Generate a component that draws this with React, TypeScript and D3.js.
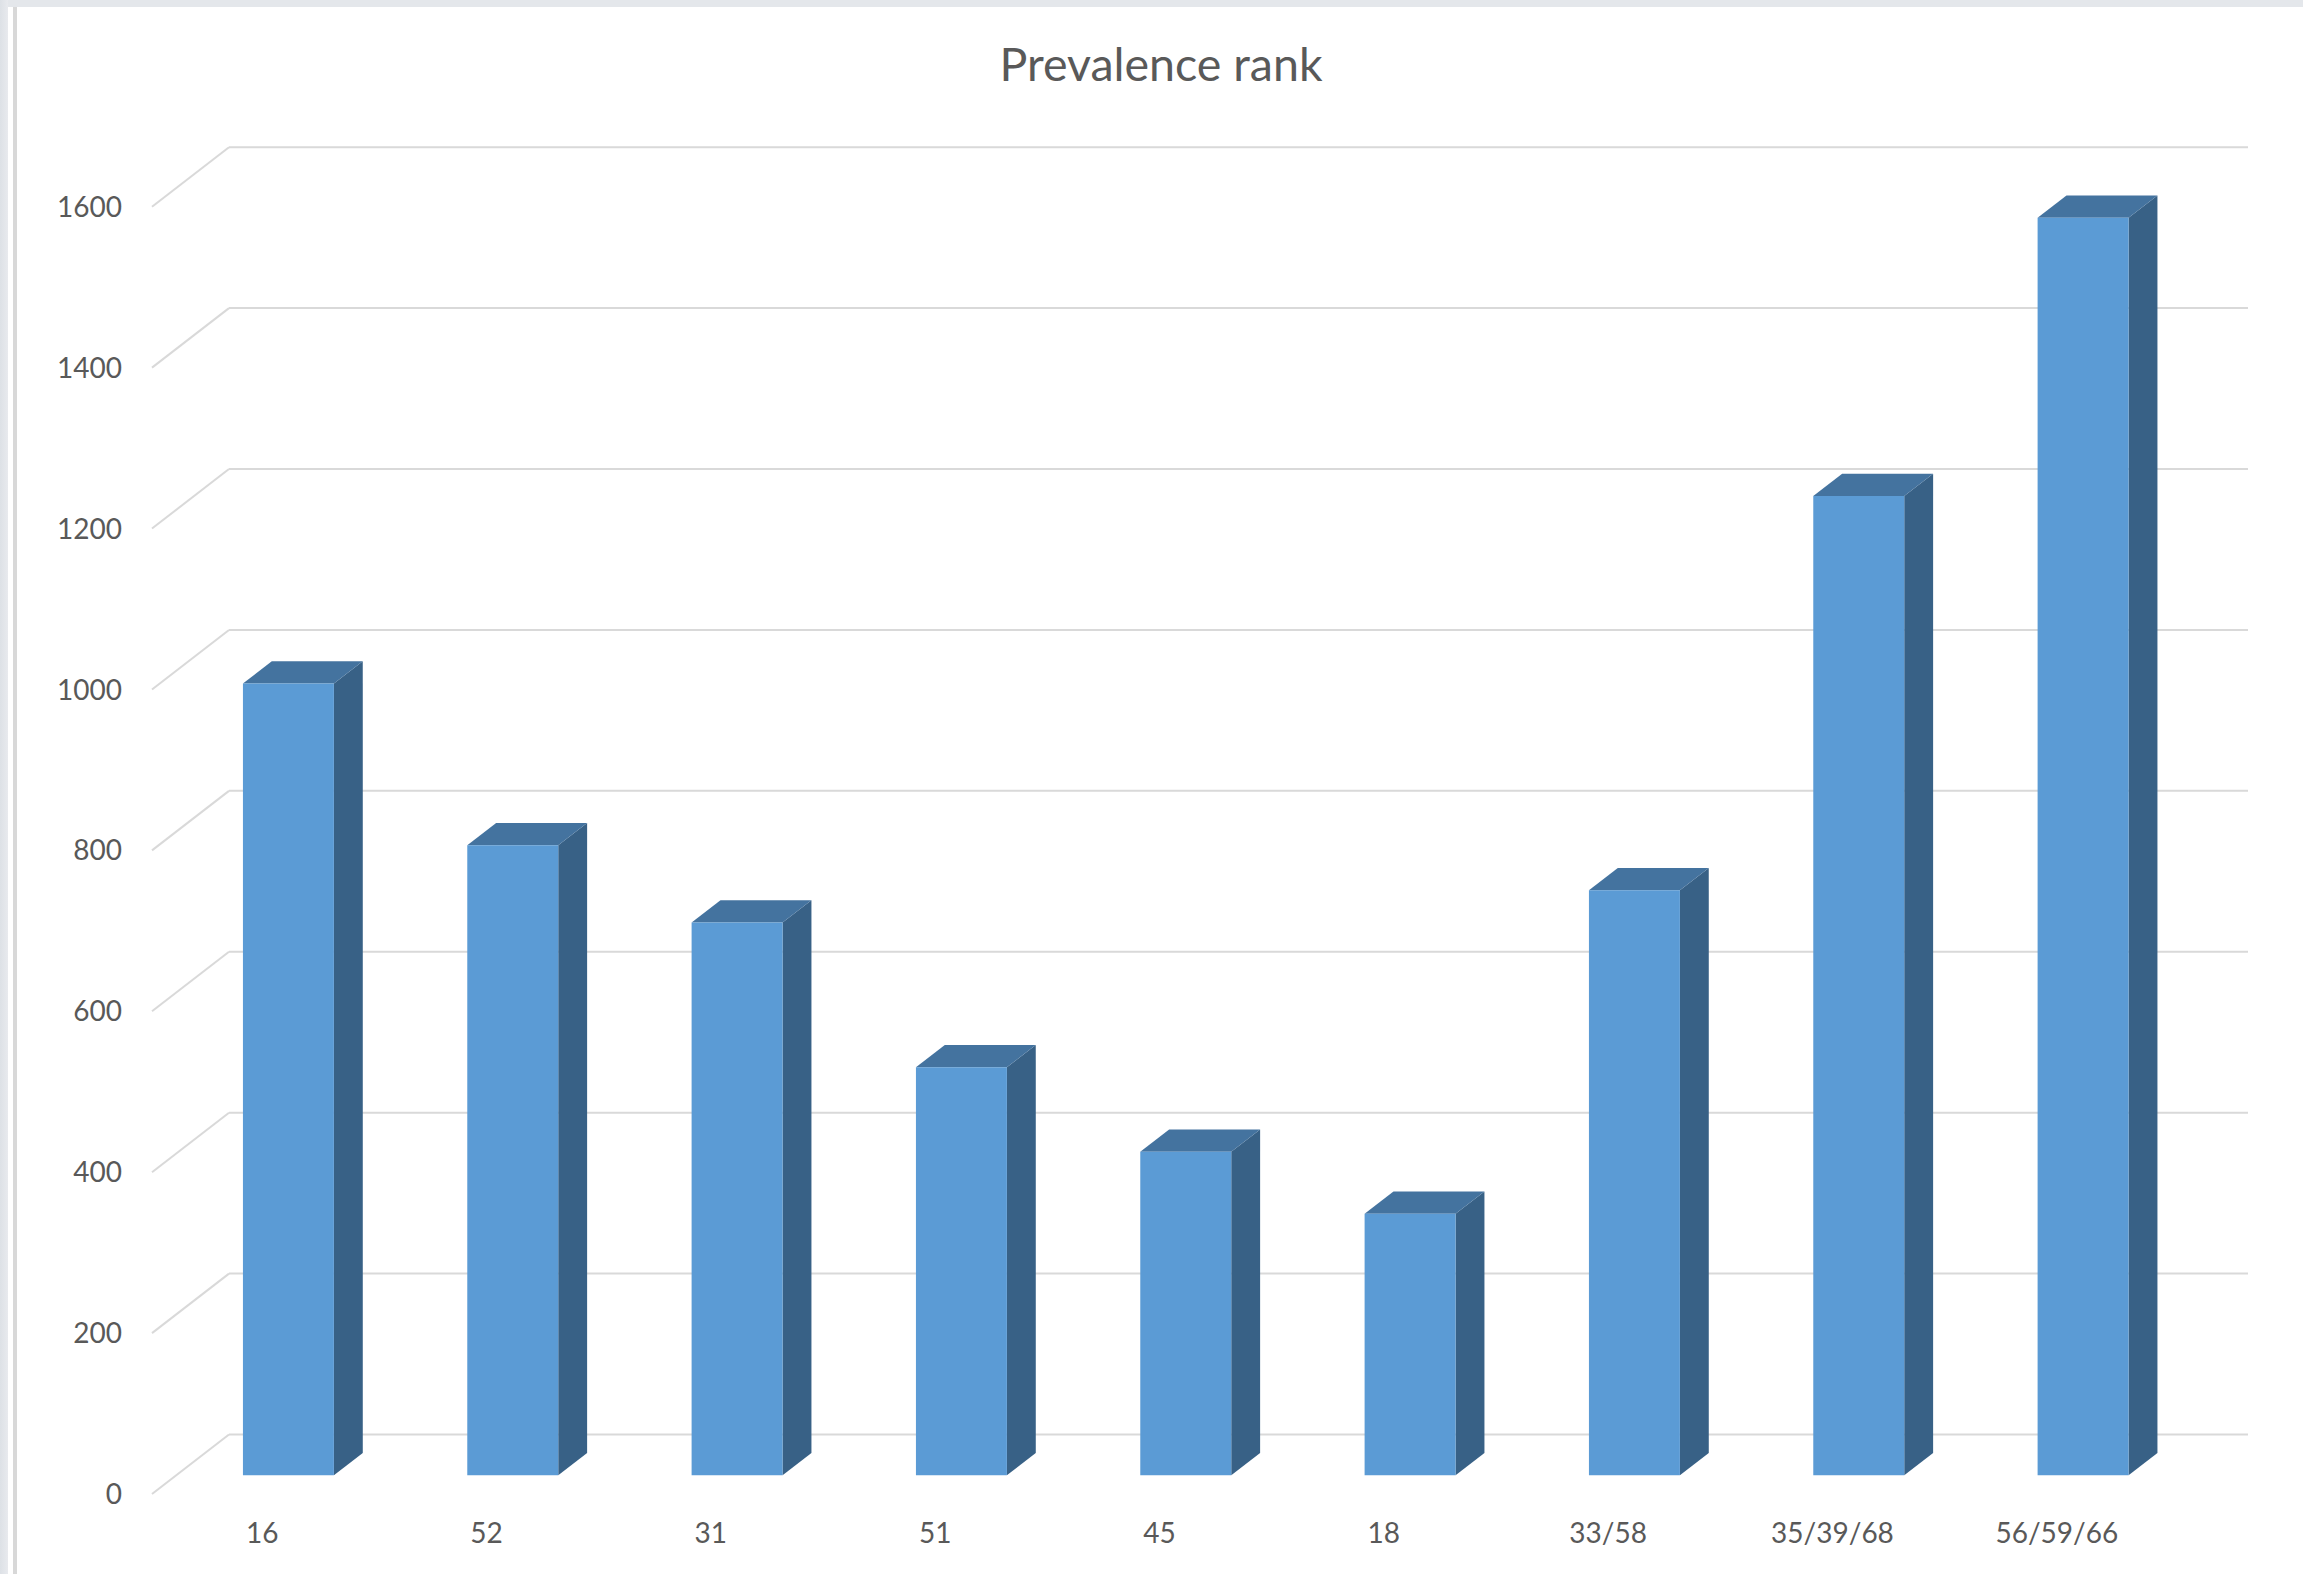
import React, { useEffect } from "react";
import * as d3 from "d3";

// Category labels (x axis) and the value of each bar
const categories: string[] = ["16", "52", "31", "51", "45", "18", "33/58", "35/39/68", "56/59/66"];
const values: number[] = [984, 783, 687, 507, 402, 325, 727, 1217, 1563];
const yTicks: number[] = [0, 200, 400, 600, 800, 1000, 1200, 1400, 1600];
const title = "Prevalence rank";

const W = 2303;
const H = 1574;

// Floor front-left corner, wall extents and oblique depth vector
const frontLeft = 152;
const frontRight = 2171;
const frontBase = 1494;
const depth = { dx: 77, dy: -59.5 };
const barDepthFront = 0.315;
const barDepthBack = 0.69;

const colors = {
  front: "#5b9bd5",
  top: "#44739f",
  side: "#386186",
  grid: "#d9d9d9",
  text: "#595959",
};

export default function App() {
  useEffect(() => {
    document.body.style.margin = "0";
  }, []);

  const y = d3.scaleLinear().domain([0, 1600]).range([0, 1287.3]);
  const x = d3
    .scaleBand<string>()
    .domain(categories)
    .range([frontLeft, frontRight])
    .paddingInner(0.5945)
    .paddingOuter(0.29725);
  const bw = x.bandwidth();

  const pt = (px: number, py: number) => `${px},${py}`;

  const bars = values.map((v, i) => {
    const cat = categories[i];
    const x0 = x(cat)!;
    const h = y(v);
    const fx = x0 + depth.dx * barDepthFront;
    const fy = frontBase + depth.dy * barDepthFront;
    const bx = x0 + depth.dx * barDepthBack;
    const by = frontBase + depth.dy * barDepthBack;
    const front = [pt(fx, fy), pt(fx + bw, fy), pt(fx + bw, fy - h), pt(fx, fy - h)].join(" ");
    const side = [pt(fx + bw, fy), pt(bx + bw, by), pt(bx + bw, by - h), pt(fx + bw, fy - h)].join(" ");
    const top = [pt(fx, fy - h), pt(fx + bw, fy - h), pt(bx + bw, by - h), pt(bx, by - h)].join(" ");
    return { cat, front, side, top };
  });

  const font = "Lato, 'Open Sans', sans-serif";

  return (
    <svg
      width={W}
      height={H}
      viewBox={`0 0 ${W} ${H}`}
      style={{ position: "absolute", left: 0, top: 0, display: "block" }}
    >
      <defs>
        <linearGradient id="frameLeft" x1="0" x2="1" y1="0" y2="0">
          <stop offset="0" stopColor="#dde1e6" />
          <stop offset="1" stopColor="#e8eaee" />
        </linearGradient>
      </defs>
      <rect x={0} y={0} width={W} height={H} fill="#ffffff" />
      {/* window frame */}
      <rect x={0} y={0} width={W} height={7} fill="#e4e7eb" />
      <rect x={0} y={0} width={8} height={H} fill="url(#frameLeft)" />
      <rect x={13} y={7} width={4} height={H - 7} fill="#d8d8d8" />

      {/* title */}
      <text
        x={1161}
        y={81}
        textAnchor="middle"
        fontFamily={font}
        fontSize={46.5}
        fill={colors.text}
      >
        {title}
      </text>

      {/* back wall gridlines and left wall slants */}
      <g stroke={colors.grid} strokeWidth={2} fill="none">
        {yTicks.map((t) => {
          const yf = frontBase - y(t);
          const yb = yf + depth.dy;
          return (
            <g key={t}>
              <line x1={frontLeft} y1={yf} x2={frontLeft + depth.dx} y2={yb} />
              <line x1={frontLeft + depth.dx} y1={yb} x2={frontRight + depth.dx} y2={yb} />
            </g>
          );
        })}
      </g>

      {/* y tick labels */}
      <g fontFamily={font} fontSize={28} fill={colors.text} textAnchor="end">
        {yTicks.map((t) => (
          <text key={t} x={122} y={frontBase - y(t)} dy="0.36em">
            {t}
          </text>
        ))}
      </g>

      {/* 3D bars */}
      <g>
        {bars.map((b) => (
          <g key={b.cat}>
            <polygon points={b.side} fill={colors.side} />
            <polygon points={b.top} fill={colors.top} />
            <polygon points={b.front} fill={colors.front} />
          </g>
        ))}
      </g>

      {/* x category labels */}
      <g fontFamily={font} fontSize={28} fill={colors.text} textAnchor="middle">
        {categories.map((c) => (
          <text key={c} x={x(c)! + bw / 2 - 2} y={1543}>
            {c}
          </text>
        ))}
      </g>
    </svg>
  );
}
